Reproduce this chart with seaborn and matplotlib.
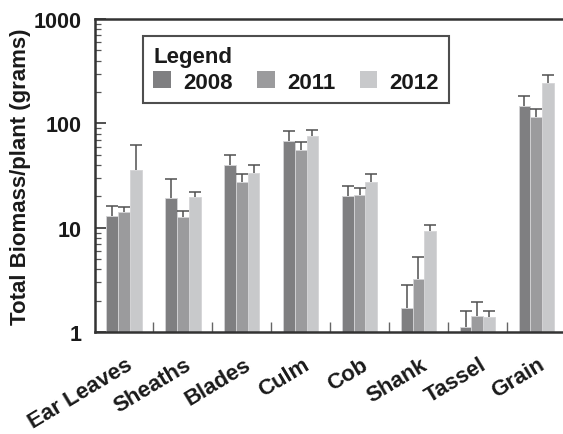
import numpy as np
import pandas as pd
import seaborn as sns
import matplotlib.pyplot as plt
import matplotlib.transforms as mtransforms
from matplotlib.ticker import FixedLocator, LogLocator, NullFormatter

# Values (grams per plant, log axis)
parts = ["Ear Leaves", "Sheaths", "Blades", "Culm", "Cob", "Shank", "Tassel", "Grain"]
years = ["2008", "2011", "2012"]
biomass_2008 = [12.9, 19.3, 39.8, 67.5, 20.2, 1.71, 1.12, 148]
biomass_2011 = [14.3, 12.7, 27.7, 56.1, 20.7, 3.22, 1.42, 114]
biomass_2012 = [35.9, 19.9, 33.3, 76.4, 27.7, 9.4, 1.40, 244]
err_2008 = [3.4, 10.1, 10.5, 17.3, 5.2, 1.13, 0.49, 34]
err_2011 = [1.4, 1.7, 5.4, 9.9, 3.2, 2.01, 0.52, 23]
err_2012 = [26.7, 2.0, 6.5, 9.7, 4.9, 1.3, 0.21, 49]

colors = ["#7f7f81", "#9b9b9d", "#c8c9cb"]

sns.set_theme(style="white")
plt.rcParams['font.family'] = ['Liberation Sans', 'DejaVu Sans']
plt.rcParams['font.weight'] = 'bold'
text_color = "#1a1a1a"

df = pd.DataFrame({
    "part": parts * 3,
    "year": [y for y in years for _ in parts],
    "biomass": biomass_2008 + biomass_2011 + biomass_2012,
})

fig = plt.figure(figsize=(5.63, 4.35), dpi=100)
ax = fig.add_axes([94.5 / 563, 1 - 333.3 / 435, (565.7 - 94.5) / 563, 313.3 / 435])

sns.barplot(data=df, x="part", y="biomass", hue="year", order=parts, hue_order=years,
            palette=colors, width=0.6, errorbar=None, saturation=1,
            edgecolor="#d4d4d6", linewidth=0.6, ax=ax)

ax.set_yscale("log")
ax.set_ylim(1, 1000)
ax.set_xlim(-0.5, 7.5)

# upper error bars with caps, placed on the seaborn bars
errs = [err_2008, err_2011, err_2012]
for cont, vals, err in zip(ax.containers, [biomass_2008, biomass_2011, biomass_2012], errs):
    xs = np.array([p.get_x() + p.get_width() / 2 for p in cont.patches])
    vals = np.array(vals)
    tops = vals + np.array(err)
    ax.vlines(xs, vals, tops, color="#505050", linewidth=1.1, zorder=3)
    ax.plot(xs, tops, linestyle="none", marker="_", markersize=9, markeredgewidth=1.1,
            color="#505050", zorder=3)

# axis styling
for side in ["left", "bottom", "top"]:
    ax.spines[side].set_linewidth(1.8)
    ax.spines[side].set_color("#333333")
ax.spines["right"].set_visible(False)

ax.yaxis.set_major_locator(FixedLocator([1, 10, 100, 1000]))
ax.yaxis.set_major_formatter(plt.FixedFormatter(["1", "10", "100", "1000"]))
ax.yaxis.set_minor_locator(LogLocator(base=10, subs=np.arange(2, 10)))
ax.yaxis.set_minor_formatter(NullFormatter())
ax.tick_params(axis="y", which="major", direction="in", length=8, width=1.2,
               color="#333333", labelsize=15.5, pad=9, labelcolor=text_color, left=True)
ax.tick_params(axis="y", which="minor", direction="in", length=4.5, width=0.9,
               color="#555555", left=True)

# category separators as inward minor ticks on the x axis
ax.xaxis.set_minor_locator(FixedLocator(np.arange(0.5, 7, 1)))
ax.tick_params(axis="x", which="minor", direction="in", length=7, width=1.0,
               color="#666666", bottom=True)
ax.tick_params(axis="x", which="major", length=0, labelsize=16, pad=22, labelcolor=text_color)
ax.set_xticks(range(len(parts)))
ax.set_xticklabels(parts, rotation=31, ha="right", va="center", rotation_mode="anchor",
                   fontweight="bold")
shift = mtransforms.ScaledTranslation(7 / 100, 0, fig.dpi_scale_trans)
for lbl in ax.get_xticklabels():
    lbl.set_transform(lbl.get_transform() + shift)
for lbl in ax.get_yticklabels():
    lbl.set_fontweight("bold")

ax.set_xlabel("")
ax.set_ylabel("Total Biomass/plant (grams)", fontsize=16, fontweight="bold",
              color=text_color, labelpad=2)

leg = ax.legend(title="Legend", ncol=3, loc="upper left", bbox_to_anchor=(0.103, 0.946),
                fontsize=16, title_fontsize=16, frameon=True, fancybox=False,
                handlelength=0.8, handleheight=0.8, handletextpad=0.55, columnspacing=1.1,
                borderpad=0.45, labelspacing=0.2, alignment="left", borderaxespad=0)
leg.get_frame().set_edgecolor("#222222")
leg.get_frame().set_linewidth(1.5)
leg.get_title().set_fontweight("bold")
leg.get_title().set_color(text_color)
for t in leg.get_texts():
    t.set_fontweight("bold")
    t.set_color(text_color)
for h in leg.legend_handles:
    h.set_edgecolor("none")

fig.savefig("out.png", dpi=100)
